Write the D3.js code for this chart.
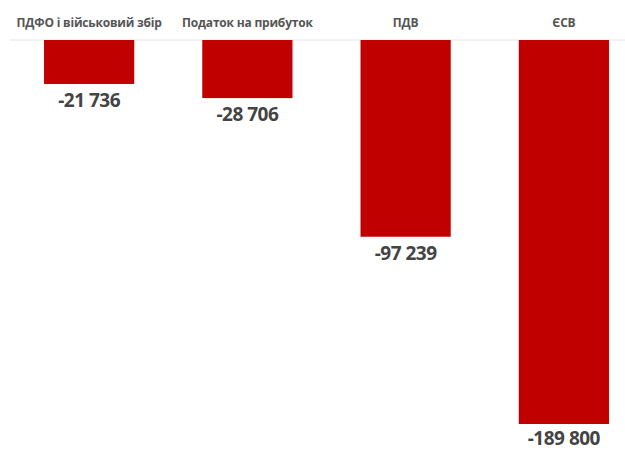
<!DOCTYPE html>
<html>
<head>
<meta charset="utf-8">
<script src="https://cdn.jsdelivr.net/npm/d3@7"></script>
<style>
  body { margin: 0; background: #fff; }
  svg { display: block; }
</style>
</head>
<body>
<div id="chart"></div>
<script>
// data
var categories = ['ПДФО і військовий збір', 'Податок на прибуток', 'ПДВ', 'ЄСВ']
var values = [-21736, -28706, -97239, -189800]

var w = 625
var h = 450
var top0 = 40

var locale = d3.formatLocale({ decimal: ',', thousands: ' ', grouping: [3], currency: ['', ''], minus: '-' })
var fmt = locale.format(',d')

var svg = d3.select('#chart').append('svg')
    .attr('width', w)
    .attr('height', h)

// scales
var xScale = d3.scaleBand()
    .domain(categories)
    .range([10, 643])
    .paddingInner(0.43)
    .paddingOuter(0.215)

var yScale = d3.scaleLinear()
    .domain([0, -189800])
    .range([top0, 424])

// baseline
svg.append('line')
    .attr('x1', 10)
    .attr('x2', w)
    .attr('y1', yScale(0))
    .attr('y2', yScale(0))
    .attr('stroke', '#e6e6e6')
    .attr('stroke-width', 1)

// bars
svg.selectAll('rect.bar')
    .data(values)
    .enter()
  .append('rect')
    .attr('class', 'bar')
    .attr('x', function (d, i) { return xScale(categories[i]) })
    .attr('y', yScale(0))
    .attr('width', xScale.bandwidth())
    .attr('height', function (d) { return yScale(d) - yScale(0) })
    .attr('fill', '#c00000')

// category labels
svg.selectAll('text.cat')
    .data(categories)
    .enter()
  .append('text')
    .attr('class', 'cat')
    .attr('x', function (d) { return xScale(d) + xScale.bandwidth() / 2 })
    .attr('y', 27)
    .attr('text-anchor', 'middle')
    .style('font-family', 'Open Sans')
    .style('font-weight', 'bold')
    .style('font-size', '12px')
    .style('letter-spacing', '-0.2px')
    .attr('fill', '#555')
    .text(function (d) { return d })

// value labels (keep the lowest one inside the picture)
svg.selectAll('text.val')
    .data(values)
    .enter()
  .append('text')
    .attr('class', 'val')
    .attr('x', function (d, i) { return xScale(categories[i]) + xScale.bandwidth() / 2 })
    .attr('y', function (d) { return Math.min(yScale(d) + 23, h - 5) })
    .attr('text-anchor', 'middle')
    .style('font-family', 'Open Sans')
    .style('font-weight', 'bold')
    .style('font-size', '19px')
    .style('letter-spacing', '-0.5px')
    .attr('fill', '#444')
    .text(function (d) { return fmt(d) })
</script>
</body>
</html>
